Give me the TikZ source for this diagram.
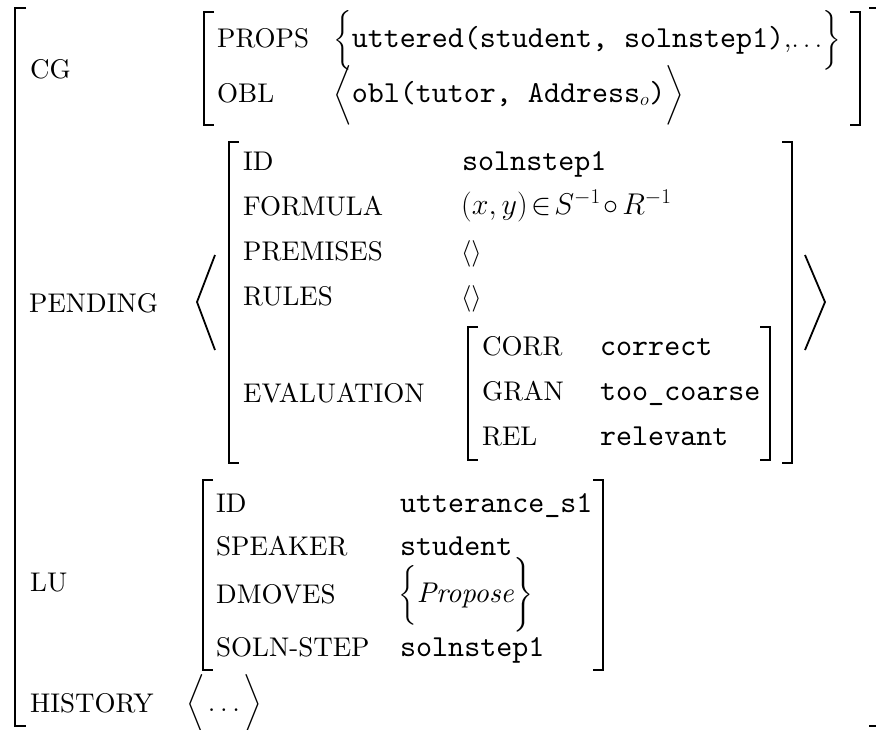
\RequirePackage{fix-cm}
\documentclass[tikz,border=0pt]{standalone}
\usepackage{amsmath}
\usepackage{fontspec}
\setmainfont{lmroman10}[Extension=.otf, UprightFont=*-regular, ItalicFont=*-italic, BoldFont=*-bold]
\setmonofont{lmmono10-regular.otf}
\newcommand{\tv}[1]{{\fontsize{30.5}{32}\selectfont\ttfamily #1}}
\tikzset{
  brk/.style={line width=2.7pt},
  ang/.style={line width=1.8pt},
  lbl/.style={anchor=base west, inner sep=0pt, font=\fontsize{27}{30}\selectfont},
  val/.style={anchor=base west, inner sep=0pt, font=\fontsize{26.5}{30}\selectfont},
}
\begin{document}
\begin{tikzpicture}[x=1pt,y=-1pt]
\useasboundingbox (0,0) rectangle (876,729);
% outer matrix
\draw[brk] (26,8) -- (15,8) -- (15,726) -- (26,726);
\draw[brk] (869,8) -- (879,8) -- (879,726) -- (869,726);
% CG
\node[lbl] (cg) at (30,78) {CG};
\draw[brk] (214,12) -- (204,12) -- (204,125) -- (214,125);
\draw[brk] (850,12) -- (860,12) -- (860,125) -- (850,125);
\node[lbl] (props) at (217,47) {PROPS};
\node[lbl] (obl) at (217,102) {OBL};
\node[val] (propsv) at (333,47) {$\biggl\{$\tv{uttered(student, solnstep1)},$\ldots\biggr\}$};
\node[val] (oblv) at (333,102) {$\biggl\langle$\tv{obl(tutor, Address}$_{o}$\tv{)}$\biggr\rangle$};
% PENDING
\node[lbl] (pend) at (29,312) {PENDING};
\draw[ang] (215,255) -- (197,302) -- (215,350);
\draw[ang] (805,255) -- (825,302) -- (805,350);
\draw[brk] (239,142) -- (229,142) -- (229,463) -- (239,463);
\draw[brk] (782,142) -- (792,142) -- (792,463) -- (782,463);
\node[lbl] (pid) at (243,170) {ID};
\node[lbl] (pform) at (243,215) {FORMULA};
\node[lbl] (pprem) at (243,260) {PREMISES};
\node[lbl] (prules) at (243,305) {RULES};
\node[lbl] (peval) at (243,402) {EVALUATION};
\node[val] (pidv) at (462,170) {\tv{solnstep1}};
\node[val, font=\fontsize{30}{32}\selectfont] (pformv) at (461,214) {\thickmuskip=2mu\medmuskip=2mu$(x,y)\in S^{-1}\circ R^{-1}$};
\node[val] (ppremv) at (461,260) {$\langle\rangle$};
\node[val] (prulesv) at (461,305) {$\langle\rangle$};
% EVALUATION
\draw[brk] (478,327) -- (468,327) -- (468,460) -- (478,460);
\draw[brk] (760,327) -- (770,327) -- (770,460) -- (760,460);
\node[lbl] (corr) at (482,355) {CORR};
\node[lbl] (gran) at (482,400) {GRAN};
\node[lbl] (rel) at (482,445) {REL};
\node[val] (corrv) at (600,355) {\tv{correct}};
\node[val] (granv) at (600,400) {\tv{too\_coarse}};
\node[val] (relv) at (600,445) {\tv{relevant}};
% LU
\node[lbl] (lu) at (30,591) {LU};
\draw[brk] (213,480) -- (203,480) -- (203,670) -- (213,670);
\draw[brk] (593,480) -- (603,480) -- (603,670) -- (593,670);
\node[lbl] (luid) at (216,512) {ID};
\node[lbl] (lusp) at (216,555) {SPEAKER};
\node[lbl] (ludm) at (216,603) {DMOVES};
\node[lbl] (lusol) at (216,656) {SOLN-STEP};
\node[val] (luidv) at (400,512) {\tv{utterance\_s1}};
\node[val] (luspv) at (400,555) {\tv{student}};
\node[val] (ludmv) at (398,602) {$\biggl\{$\fontsize{28.5}{30}\selectfont\textit{Propose}$\biggr\}$};
\node[val] (lusolv) at (400,656) {\tv{solnstep1}};
% HISTORY
\node[lbl] (hist) at (30,712) {HISTORY};
\node[val, font=\fontsize{28}{30}\selectfont] (histv) at (186,711) {$\Bigl\langle\mkern2mu\ldots\mkern2mu\Bigr\rangle$};
\end{tikzpicture}
\end{document}
